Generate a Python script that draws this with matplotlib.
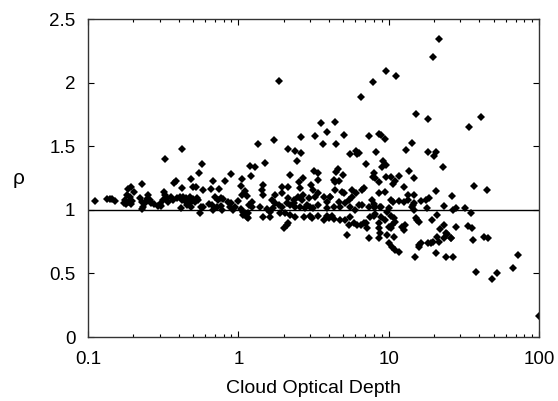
import matplotlib
matplotlib.use("Agg")
import matplotlib.pyplot as plt
from matplotlib.ticker import FixedLocator, LogLocator, NullFormatter

plt.rcParams['font.family'] = ['Liberation Sans', 'DejaVu Sans']

# Cloud optical depth (x) and rho (y)
tau = [
    # 0.1 - 0.4
    0.111, 0.134, 0.140, 0.145, 0.152, 0.193, 0.185, 0.203, 0.183, 0.191,
    0.177, 0.187, 0.197, 0.180, 0.193, 0.174, 0.229, 0.221, 0.227, 0.251,
    0.245, 0.239, 0.233, 0.227, 0.264, 0.275, 0.258, 0.325, 0.382, 0.374,
    0.318, 0.325, 0.316, 0.333, 0.341, 0.301, 0.290, 0.308, 0.359, 0.369,
    0.388,
    # 0.4 - 1.6
    0.425, 1.346, 0.569, 0.550, 0.481, 0.501, 0.519, 0.425, 0.584, 0.678,
    0.654, 0.743, 0.815, 0.889, 1.052, 1.196, 1.291, 1.506, 1.208, 1.042,
    1.109, 1.052, 1.135, 1.468, 1.430, 1.468,
    0.409, 0.430, 0.452, 0.476, 0.501, 0.419, 0.441, 0.464, 0.488, 0.514,
    0.527, 0.541,
    0.415, 0.459, 0.488, 0.564, 0.555, 0.584, 0.638, 0.664, 0.681, 0.699,
    0.736, 0.767, 0.794, 0.717, 0.767, 0.774, 0.858, 0.894, 0.880, 0.926,
    0.950, 1.000, 1.042, 1.079, 1.079, 1.109, 1.135, 1.166, 1.180, 1.240,
    1.395, 1.468, 1.545, 1.227, 1.166,
    # 1.6 - 6.3
    1.718, 3.54, 4.42, 2.60, 3.24, 3.88, 5.03, 3.67, 4.48, 2.154,
    2.39, 2.62, 2.45, 5.52, 6.05, 6.15, 3.20, 3.41, 4.57, 4.48,
    2.21, 2.71, 2.55, 3.06, 3.38, 4.30, 4.42, 4.69, 4.93, 1.94,
    2.13, 2.58, 3.16, 3.41, 4.09, 4.42, 4.88, 5.01, 5.69, 6.05,
    1.76, 1.94, 2.154, 2.33, 2.51, 2.71, 2.64, 2.93, 3.24, 3.69,
    4.09, 3.88, 4.64, 5.41, 5.69, 1.67, 1.76, 1.85, 1.94, 1.71,
    1.63, 2.10, 2.21, 2.33, 2.39, 2.58, 2.78, 2.85, 3.01, 3.16,
    3.41, 3.88, 4.30, 4.77, 5.14, 5.56, 6.00, 2.05, 2.21, 2.39,
    2.75, 3.01, 3.08, 3.41, 3.69, 3.88, 3.98, 4.19, 4.30, 4.77,
    5.09, 5.41, 5.56, 5.84, 6.15, 2.154, 2.10, 2.02, 5.27, 1.90,
    1.63,
    # 6.3 - 25
    15.3, 18.2, 7.43, 8.58, 8.94, 9.40, 14.3, 13.1, 8.28, 18.3,
    20.7, 20.0, 6.31, 9.16, 9.02, 9.66, 7.10, 22.9, 13.7, 7.94,
    7.82, 8.15, 9.59, 10.4, 11.0, 10.7, 11.8, 14.8, 8.58, 6.81,
    6.64, 12.6, 9.51, 8.67, 13.4, 14.7, 20.5, 7.74, 7.94, 10.4,
    10.7, 11.7, 12.6, 13.4, 14.5, 14.7, 16.3, 17.6, 18.5, 23.3,
    6.31, 6.64, 8.71, 8.94, 10.0, 7.36, 7.94, 8.15, 14.3, 18.0,
    9.75, 14.7, 8.15, 7.55, 7.94, 7.06, 6.81, 6.58, 7.17, 8.67,
    8.94, 9.51, 10.4, 10.8, 11.1, 10.5, 10.3, 10.1, 8.58, 8.81,
    8.58, 7.36, 9.75, 10.8, 10.0, 10.5, 11.1, 11.7, 12.3, 12.9,
    12.6, 15.1, 15.5, 15.8, 14.9, 15.8, 16.3, 19.0, 19.4, 21.0,
    22.1, 21.0, 21.5, 20.5, 19.7, 23.9, 24.1, 23.3, 24.4, 25.9,
    23.2, 18.3, 16.0,
    # 25 - 100
    41.2, 34.1, 36.9, 45.2, 26.4, 28.1, 26.8, 32.0, 35.1, 28.1,
    33.6, 35.9, 26.1, 36.3, 43.0, 45.9, 26.7, 38.2, 52.7, 48.4,
    67.1, 72.7, 100.0,
    # high outliers
    1.87, 6.50, 7.82, 9.59, 11.2, 19.6, 21.6,
]

rho = [
    # 0.1 - 0.4
    1.069, 1.087, 1.085, 1.083, 1.072, 1.177, 1.164, 1.142, 1.116, 1.103,
    1.077, 1.064, 1.072, 1.046, 1.046, 1.051, 1.203, 1.090, 1.064, 1.116,
    1.083, 1.051, 1.024, 1.009, 1.056, 1.046, 1.077, 1.397, 1.229, 1.213,
    1.142, 1.116, 1.077, 1.090, 1.064, 1.046, 1.030, 1.030, 1.103, 1.077,
    1.090,
    # 0.4 - 1.6
    1.478, 1.517, 1.360, 1.287, 1.240, 1.182, 1.182, 1.169, 1.156, 1.226,
    1.161, 1.161, 1.226, 1.279, 1.240, 1.347, 1.339, 1.366, 1.268, 1.187,
    1.150, 1.116, 1.108, 1.195, 1.156, 1.116,
    1.098, 1.103, 1.090, 1.098, 1.083, 1.077, 1.072, 1.077, 1.064, 1.064,
    1.090, 1.077,
    1.013, 1.038, 1.024, 1.020, 0.977, 1.020, 1.046, 1.038, 0.998, 1.103,
    1.077, 1.090, 1.083, 1.020, 1.030, 0.998, 1.064, 1.056, 1.020, 0.998,
    1.020, 1.069, 1.004, 0.985, 0.959, 0.972, 0.946, 0.977, 1.038, 1.064,
    1.020, 0.941, 1.004, 1.020, 0.933,
    # 1.6 - 6.3
    1.549, 1.685, 1.693, 1.575, 1.583, 1.609, 1.586, 1.520, 1.520, 1.478,
    1.462, 1.449, 1.386, 1.439, 1.462, 1.439, 1.303, 1.292, 1.321, 1.300,
    1.274, 1.248, 1.221, 1.195, 1.234, 1.234, 1.221, 1.229, 1.274, 1.182,
    1.182, 1.169, 1.156, 1.130, 1.103, 1.156, 1.142, 1.130, 1.156, 1.130,
    1.116, 1.130, 1.090, 1.077, 1.103, 1.116, 1.077, 1.090, 1.098, 1.098,
    1.098, 1.064, 1.064, 1.077, 1.103, 1.077, 1.051, 1.038, 1.024, 1.011,
    0.985, 1.051, 1.038, 1.056, 1.024, 1.024, 1.011, 1.038, 1.024, 1.011,
    1.038, 1.011, 1.024, 1.024, 1.051, 1.024, 1.000, 0.972, 0.959, 0.946,
    0.941, 0.951, 0.933, 0.951, 0.920, 0.951, 0.933, 0.951, 0.925, 0.920,
    0.920, 0.880, 0.946, 0.894, 0.880, 0.894, 0.880, 0.855, 0.802, 0.972,
    0.946,
    # 6.3 - 25
    1.751, 1.711, 1.580, 1.594, 1.586, 1.559, 1.528, 1.470, 1.457, 1.457,
    1.457, 1.425, 1.444, 1.384, 1.339, 1.352, 1.358, 1.334, 1.305, 1.287,
    1.260, 1.252, 1.260, 1.260, 1.229, 1.203, 1.268, 1.248, 1.216, 1.169,
    1.156, 1.177, 1.138, 1.130, 1.116, 1.116, 1.148, 1.077, 1.046, 1.077,
    1.064, 1.072, 1.061, 1.077, 1.038, 1.056, 1.072, 1.077, 1.095, 1.032,
    1.038, 1.038, 1.024, 1.024, 1.011, 1.024, 1.024, 1.020, 1.024, 1.011,
    0.985, 0.998, 0.967, 0.941, 0.951, 0.894, 0.894, 0.880, 0.855, 0.894,
    0.946, 0.920, 0.951, 0.933, 0.906, 0.880, 0.855, 0.867, 0.855, 0.815,
    0.776, 0.776, 0.802, 0.789, 0.737, 0.706, 0.684, 0.671, 0.867, 0.880,
    0.841, 0.933, 0.920, 0.906, 0.631, 0.710, 0.737, 0.741, 0.920, 0.959,
    0.847, 0.789, 0.749, 0.658, 0.749, 0.815, 0.631, 0.880, 0.807, 0.776,
    0.776, 0.737, 0.723,
    # 25 - 100
    1.727, 1.653, 1.187, 1.156, 1.111, 1.017, 0.998, 1.011, 0.972, 0.867,
    0.873, 0.859, 0.776, 0.763, 0.784, 0.781, 0.627, 0.513, 0.501, 0.456,
    0.545, 0.642, 0.167,
    # high outliers
    2.015, 1.889, 2.005, 2.091, 2.050, 2.199, 2.340,
]

x_ticks = [0.1, 1, 10, 100]
x_ticklabels = ["0.1", "1", "10", "100"]
y_ticks = [0, 0.5, 1, 1.5, 2, 2.5]
y_ticklabels = ["0", "0.5", "1", "1.5", "2", "2.5"]
ref_level = 1.0

fig = plt.figure(figsize=(5.58, 4.01), dpi=100)
ax = fig.add_axes([0.1577, 0.1596, 0.8083, 0.7930])

ax.axhline(ref_level, color='black', lw=1.0, zorder=1)
ax.plot(tau, rho, linestyle='none', marker='D', markersize=3.8,
        color='black', markeredgewidth=0, zorder=2)

ax.set_xscale('log')
ax.set_xlim(0.1, 100)
ax.set_ylim(0, 2.5)

ax.xaxis.set_major_locator(FixedLocator(x_ticks))
ax.set_xticklabels(x_ticklabels)
ax.xaxis.set_minor_locator(LogLocator(base=10, subs=range(2, 10)))
ax.xaxis.set_minor_formatter(NullFormatter())
ax.set_yticks(y_ticks)
ax.set_yticklabels(y_ticklabels)

ax.tick_params(axis='both', which='major', direction='in', length=4.5,
               width=0.8, top=True, right=True, labelsize=13.5,
               colors='black')
ax.tick_params(axis='y', which='major', pad=9)
ax.tick_params(axis='x', which='major', pad=10)
ax.tick_params(axis='x', which='minor', direction='in', length=2.5,
               width=0.8, top=True, bottom=True)

for sp in ax.spines.values():
    sp.set_linewidth(1.0)
    sp.set_color('#333333')

ax.set_xlabel('Cloud Optical Depth', fontsize=14, labelpad=9)
ax.set_ylabel('ρ', fontsize=15, rotation=0, labelpad=22, va='center')

fig.savefig('out.png', dpi=100)
